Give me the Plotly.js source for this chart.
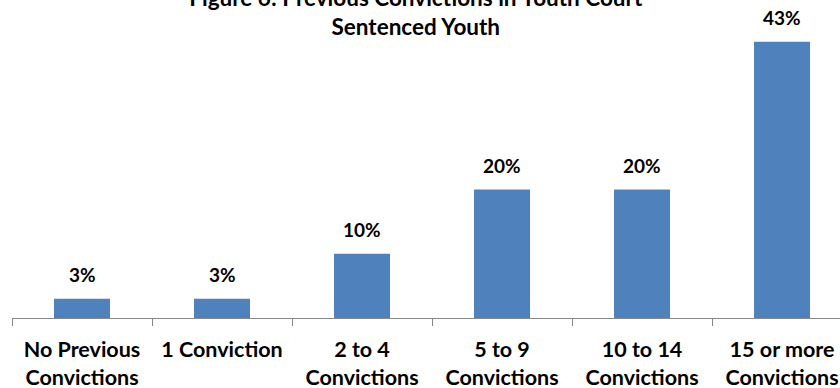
<!DOCTYPE html>
<html>
<head>
<meta charset="utf-8">
<script src="https://cdn.plot.ly/plotly-3.0.1.min.js"></script>
<style>
  html, body { margin: 0; padding: 0; background: #fff; }
  #chart { width: 840px; height: 388px; }
</style>
</head>
<body>
<div id="chart"></div>
<script>
// Previous convictions among youth court sentenced youth (percent of youth)
const categories = [
  "No Previous<br>Convictions",
  "1 Conviction",
  "2 to 4<br>Convictions",
  "5 to 9<br>Convictions",
  "10 to 14<br>Convictions",
  "15 or more<br>Convictions"
];
const percents = [3, 3, 10, 20, 20, 43];
const valueLabels = ["3%", "3%", "10%", "20%", "20%", "43%"];

const FONT = "Lato, 'Open Sans', sans-serif";
const BAR_BLUE = "#4F81BD";

const trace = {
  type: "bar",
  x: categories,
  y: percents,
  marker: { color: BAR_BLUE },
  hoverinfo: "skip"
};

// value labels floating above each bar
const labels = categories.map((c, i) => ({
  x: c,
  y: percents[i],
  xref: "x",
  yref: "y",
  text: "<b>" + valueLabels[i] + "</b>",
  showarrow: false,
  yanchor: "bottom",
  yshift: 11,
  font: { family: FONT, size: 19, color: "#000" }
}));

const layout = {
  width: 840,
  height: 388,
  margin: { l: 12, r: 0, t: 20, b: 70 },
  paper_bgcolor: "#fff",
  plot_bgcolor: "#fff",
  bargap: 0.6,
  showlegend: false,
  title: {
    text: "<b>Figure 6: Previous Convictions in Youth Court<br>Sentenced Youth</b>",
    font: { family: FONT, size: 22.5, color: "#000" },
    xref: "container",
    x: 0.495,
    yref: "container",
    y: 0.985,
    yanchor: "bottom"
  },
  xaxis: {
    type: "category",
    range: [-0.5, 5.414],
    showline: true,
    linecolor: "#888",
    linewidth: 1,
    ticks: "outside",
    tickson: "boundaries",
    ticklen: 7,
    tickcolor: "#888",
    showgrid: false,
    ticklabelstandoff: 12,
    tickfont: { family: FONT, size: 21.5, color: "#000", weight: "bold" }
  },
  yaxis: {
    range: [0, 46.4],
    visible: false,
    showgrid: false,
    zeroline: false
  },
  annotations: labels
};

Plotly.newPlot("chart", [trace], layout, { displayModeBar: false, staticPlot: true });
</script>
</body>
</html>
